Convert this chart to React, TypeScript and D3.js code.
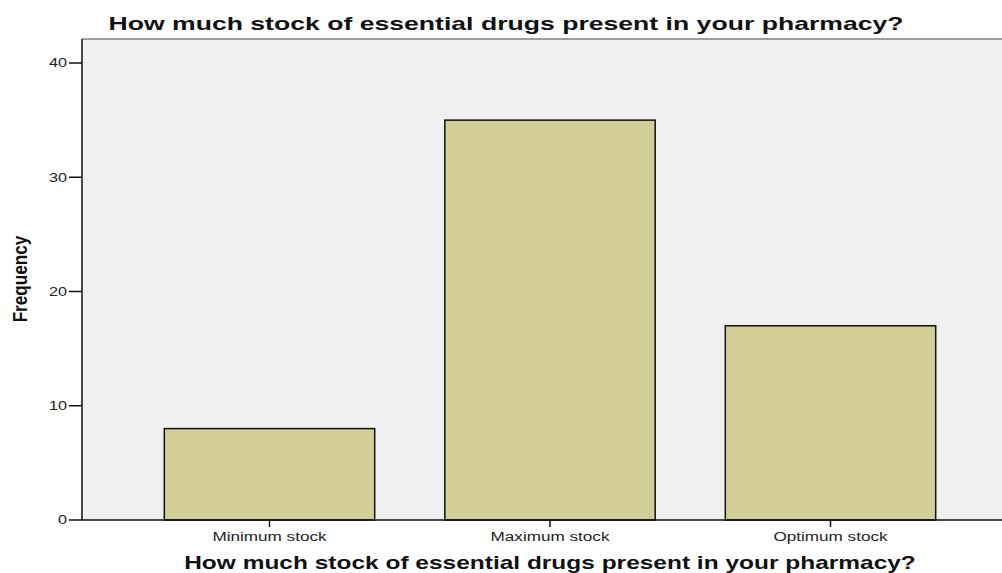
import React from "react";
import * as d3 from "d3";

const categories = ["Minimum stock", "Maximum stock", "Optimum stock"];
const frequencies = [8, 35, 17];
const yTicks = [0, 10, 20, 30, 40];
const titleText = "How much stock of essential drugs present in your pharmacy?";
const yLabel = "Frequency";

const FONT = "Liberation Sans, Arial, sans-serif";

export default function App() {
  const W = 1002, H = 573;
  const plotLeft = 82, plotTop = 39, plotBottom = 520, plotRight = 1010;
  const y = d3.scaleLinear().domain([0, 40]).range([plotBottom, 63]);
  const x = d3.scaleBand<string>().domain(categories).range([129.25, 970.75]).paddingInner(0.25).paddingOuter(0.125);
  return (
    <svg width={W} height={H} style={{ position: "absolute", left: 0, top: 0, background: "#fff" }}>
      <rect x={plotLeft} y={plotTop} width={plotRight - plotLeft} height={plotBottom - plotTop} fill="#f0f0f0" />
      <line x1={plotLeft} x2={plotRight} y1={plotTop} y2={plotTop} stroke="#808080" strokeWidth={1.5} />
      {categories.map((c, i) => (
        <rect key={c} x={x(c)} y={y(frequencies[i])} width={x.bandwidth()} height={plotBottom - y(frequencies[i])}
          fill="#d3ce97" stroke="#111" strokeWidth={1.5} />
      ))}
      <line x1={plotLeft} x2={plotLeft} y1={plotTop} y2={plotBottom} stroke="#111" strokeWidth={1.5} />
      <line x1={plotLeft} x2={plotRight} y1={plotBottom} y2={plotBottom} stroke="#111" strokeWidth={1.5} />
      {yTicks.map(t => (
        <g key={t}>
          <line x1={plotLeft - 13} x2={plotLeft} y1={y(t)} y2={y(t)} stroke="#111" strokeWidth={1.5} />
          <text transform={`translate(${plotLeft - 15},${y(t)}) scale(1.3,1)`} dy="0.35em" textAnchor="end" fontFamily={FONT} fontSize={12.5} fill="#222">{t}</text>
        </g>
      ))}
      {categories.map(c => {
        const cx = (x(c) as number) + x.bandwidth() / 2;
        return (
          <g key={c}>
            <line x1={cx} x2={cx} y1={plotBottom} y2={plotBottom + 7} stroke="#111" strokeWidth={1.5} />
            <text transform={`translate(${cx},541) scale(1.37,1)`} textAnchor="middle" fontFamily={FONT} fontSize={12.5} fill="#222">{c}</text>
          </g>
        );
      })}
      <text transform="translate(506,30) scale(1.4,1)" textAnchor="middle" fontFamily={FONT} fontWeight="bold" fontSize={19} fill="#111">{titleText}</text>
      <text transform="translate(550,569) scale(1.4,1)" textAnchor="middle" fontFamily={FONT} fontWeight="bold" fontSize={17.5} fill="#111">{titleText}</text>
      <text transform="translate(27,279) rotate(-90) scale(0.88,1)" textAnchor="middle" fontFamily={FONT} fontWeight="bold" fontSize={19.5} fill="#111">{yLabel}</text>
    </svg>
  );
}
